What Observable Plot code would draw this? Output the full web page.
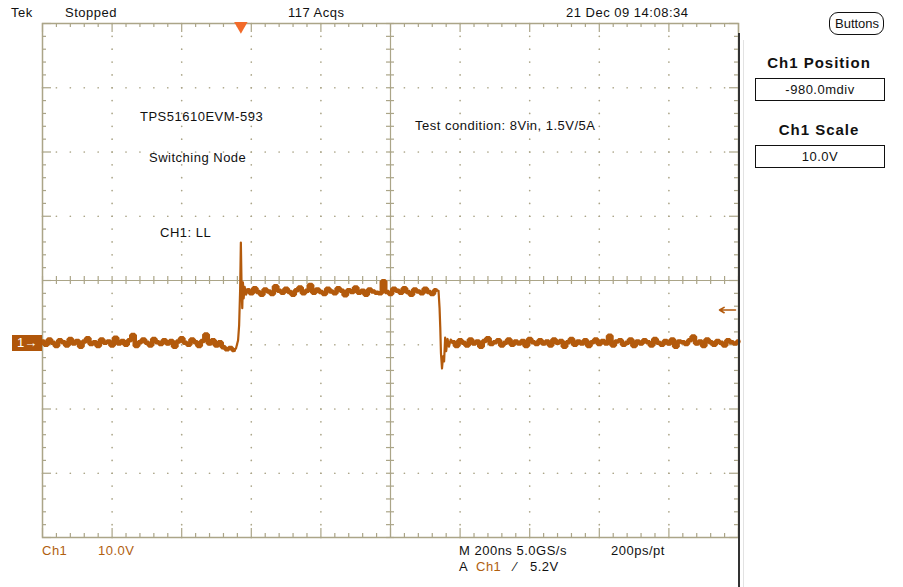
<!DOCTYPE html>
<html>
<head>
<meta charset="utf-8">
<script src="https://cdn.jsdelivr.net/npm/d3@7"></script>
<script src="https://cdn.jsdelivr.net/npm/@observablehq/plot@0.6"></script>
<style>
  html, body { margin: 0; padding: 0; background: #fff; }
  #wrap { position: relative; width: 903px; height: 587px; overflow: hidden; background: #fff;
          font-family: "Liberation Sans", Arial, sans-serif; color: #111; }
  #wrap svg { position: absolute; left: 0; top: 0; }
  .t { position: absolute; white-space: nowrap; font-size: 13px; line-height: 1; letter-spacing: 0.5px; }
  .o { color: #b0600f; }
  .box { position: absolute; border: 1.5px solid #111; text-align: center; font-size: 13px; line-height: 21px; box-sizing: border-box; letter-spacing: 0.5px; }
  .hd { position: absolute; font-weight: bold; font-size: 15px; letter-spacing: 1px; text-align: center; width: 160px; }
</style>
</head>
<body>
<div id="wrap"></div>
<script>
// ---------- data ----------
const channel = "Ch1";
const voltsPerDiv = 10;          // V/div
const timePerDiv = 200;          // ns/div
const positionDiv = -0.98;       // Ch1 position (div)
const triggerLevel = 5.2;        // V
const triggerTime = 570;         // ns
const sampleStep = 10;           // ns between plotted samples

// low level before switching edge (t = 0 .. 550 ns)
const lowBefore = [
  0.3,-0.2,0.6,0.1,-0.4,0.5,0.2,-0.3,0.7,0.0,
  0.4,-0.5,0.3,0.8,-0.1,0.2,-0.4,0.6,0.1,0.3,
  -0.3,0.9,0.0,0.4,-0.2,0.5,1.3,-0.4,0.2,0.6,
  0.1,-0.3,0.7,0.2,-0.1,0.5,0.0,0.4,-0.5,0.3,
  0.8,0.1,-0.2,0.6,0.2,-0.4,0.4,1.4,0.0,0.5,
  -0.3,0.2,-0.6,-0.9,-0.7,-1.0
];
// rising edge [t ns, V]
const risingEdge = [[556,-0.8],[562,0.5],[565,2.8],[568,8.5],[570,15.7],[572,9.0],[574,5.5],[576,9.5],[578,7.0],[581,8.8],[585,7.6]];
// high level (t = 590 .. 1130 ns)
const highLevel = [
  8.3,7.8,8.6,8.0,7.6,8.4,8.1,7.7,8.9,8.2,
  7.9,8.5,8.0,7.6,8.3,8.7,7.8,8.2,9.1,7.9,
  8.4,8.0,7.7,8.5,8.1,7.8,8.6,8.2,7.5,8.3,
  8.0,8.7,7.9,8.2,7.6,8.4,8.1,7.9,7.8,9.7,
  8.0,7.7,8.5,8.2,7.9,8.6,8.0,7.6,8.4,8.1,
  7.8,8.5,8.0,7.7,8.3
];
// falling edge [t ns, V]
const fallingEdge = [[1138,8.2],[1141,5.5],[1143,2.5],[1145,-1.5],[1148,-3.9],[1151,-2.0],[1154,-2.8],[1157,0.9],[1160,-1.2],[1164,0.7],[1168,-0.5],[1173,0.6]];
// low level after (t = 1180 .. 2000 ns)
const lowAfter = [
  0.2,-0.4,0.5,0.1,-0.3,0.6,0.0,0.3,-0.5,0.4,
  0.8,-0.1,0.2,0.5,-0.3,0.1,0.6,-0.2,0.3,0.0,
  0.4,-0.4,0.7,0.2,-0.1,0.5,0.0,0.3,-0.3,0.6,
  0.1,0.4,-0.5,0.2,0.7,-0.2,0.3,0.0,0.5,-0.4,
  0.2,0.6,-0.1,0.4,0.0,1.2,-0.3,0.3,0.5,-0.2,
  0.1,0.6,-0.4,0.3,0.0,0.5,0.2,-0.3,0.7,0.1,
  -0.2,0.4,0.0,0.6,-0.5,0.3,0.2,-0.1,0.5,1.1,
  0.0,0.3,-0.4,0.6,0.2,-0.2,0.4,0.1,-0.3,0.5,
  0.2,0.0,0.3
];

// ---------- build trace segments ----------
const lvl1 = lowBefore.map((v, i) => ({t: i * sampleStep, v, seg: "low1"}));
const lvl2 = highLevel.map((v, i) => ({t: 590 + i * sampleStep, v, seg: "high"}));
const lvl3 = lowAfter.map((v, i) => ({t: 1180 + i * sampleStep, v, seg: "low2"}));
const levels = [...lvl1, ...lvl2, ...lvl3];
const edges = [
  {...lvl1[lvl1.length - 1], seg: "rise"},
  ...risingEdge.map(([t, v]) => ({t, v, seg: "rise"})),
  {...lvl2[0], seg: "rise"},
  {...lvl2[lvl2.length - 1], seg: "fall"},
  ...fallingEdge.map(([t, v]) => ({t, v, seg: "fall"})),
  {...lvl3[0], seg: "fall"}
];

// ---------- graticule ----------
const nDivX = 10, nDivY = 8;
const xMin = 0, xMax = nDivX * timePerDiv;
const yCenter = -positionDiv * voltsPerDiv;            // 9.8 V at screen center
const yMin = yCenter - nDivY / 2 * voltsPerDiv, yMax = yCenter + nDivY / 2 * voltsPerDiv;
const xMajor = d3.range(0, nDivX + 1).map(k => k * timePerDiv);
const xMinor = d3.range(0, nDivX * 5 + 1).map(k => k * timePerDiv / 5);
const yMajor = d3.range(0, nDivY + 1).map(k => yMin + k * voltsPerDiv);
const yMinor = d3.range(0, nDivY * 5 + 1).map(k => yMin + k * voltsPerDiv / 5);
const xCenter = (xMin + xMax) / 2;

const W = 903, H = 587, mL = 42, mR = 165, mT = 23, mB = 50;
const pxX = (xMax - xMin) / (W - mL - mR);
const pxY = (yMax - yMin) / (H - mT - mB);

const gridColor = "#aba588";
const traceColor = "#b35a0c";

const isMajX = t => Math.abs(t / timePerDiv - Math.round(t / timePerDiv)) < 1e-6;
const isMajY = v => Math.abs((v - yMin) / voltsPerDiv - Math.round((v - yMin) / voltsPerDiv)) < 1e-6;

const dots = [];
xMajor.slice(1, -1).forEach(x => { if (x !== xCenter) yMinor.forEach(y => dots.push({x, y})); });
yMajor.slice(1, -1).forEach(y => { if (Math.abs(y - yCenter) > 1e-6) xMinor.forEach(x => dots.push({x, y})); });

const tickLen = d => (d ? 9 : 4);

const chart = Plot.plot({
  width: W, height: H,
  marginLeft: mL, marginRight: mR, marginTop: mT, marginBottom: mB,
  x: {domain: [xMin, xMax], axis: null},
  y: {domain: [yMin, yMax], axis: null},
  style: {background: "transparent", overflow: "visible"},
  marks: [
    Plot.dot(dots, {x: "x", y: "y", r: 0.85, fill: gridColor, stroke: null}),
    Plot.ruleX([xCenter], {stroke: gridColor, strokeWidth: 1.2}),
    Plot.ruleY([yCenter], {stroke: gridColor, strokeWidth: 1.2}),
    // center axis ticks
    Plot.ruleX(xMinor, {x: d => d, y1: yCenter - 4 * pxY, y2: yCenter + 4 * pxY, stroke: gridColor, strokeWidth: 1.2}),
    Plot.ruleY(yMinor, {y: d => d, x1: xCenter - 4 * pxX, x2: xCenter + 4 * pxX, stroke: gridColor, strokeWidth: 1.2}),
    // edge ticks
    Plot.ruleX(xMinor, {x: d => d, y1: yMax, y2: d => yMax - tickLen(isMajX(d)) * pxY, stroke: gridColor, strokeWidth: 1.2}),
    Plot.ruleX(xMinor, {x: d => d, y1: yMin, y2: d => yMin + tickLen(isMajX(d)) * pxY, stroke: gridColor, strokeWidth: 1.2}),
    Plot.ruleY(yMinor, {y: d => d, x1: xMin, x2: d => xMin + tickLen(isMajY(d)) * pxX, stroke: gridColor, strokeWidth: 1.2}),
    Plot.ruleY(yMinor, {y: d => d, x1: xMax, x2: d => xMax - tickLen(isMajY(d)) * pxX, stroke: gridColor, strokeWidth: 1.2}),
    Plot.frame({stroke: gridColor, strokeWidth: 1.5}),
    // waveform: edges thin, settled levels as a thick noisy band
    Plot.line(edges, {x: "t", y: "v", z: "seg", stroke: traceColor, strokeWidth: 2.2}),
    Plot.line(levels, {x: "t", y: "v", z: "seg", curve: "step", stroke: traceColor, strokeWidth: 4.5, strokeLinejoin: "miter"}),
    // trigger position marker
    Plot.dot([triggerTime], {x: d => d, y: yMax - 2.5 * pxY, symbol: "triangle", rotate: 180, r: 5, fill: "#f26b2a", stroke: null}),
    // trigger level arrow
    Plot.arrow([triggerLevel], {x1: xMax - 3 * pxX, x2: xMax - 19 * pxX, y1: d => d, y2: d => d, stroke: traceColor, strokeWidth: 1.6, headLength: 7})
  ]
});

const wrap = document.getElementById("wrap");
wrap.appendChild(chart);

const sy = chart.scale("y");
const groundY = sy.apply(0);

function addText(cls, text, left, top, extraStyle) {
  const d = document.createElement("div");
  d.className = cls;
  d.textContent = text;
  d.style.left = left + "px";
  d.style.top = top + "px";
  if (extraStyle) Object.assign(d.style, extraStyle);
  wrap.appendChild(d);
  return d;
}

// top status line
addText("t", "Tek", 11, 6);
addText("t", "Stopped", 65, 6);
addText("t", "117 Acqs", 288, 6);
addText("t", "21 Dec 09 14:08:34", 566, 6);

// buttons
addText("t", "Buttons", 829, 12, {border: "1.5px solid #111", borderRadius: "9px", padding: "4px 4px 4px 5px", fontSize: "13px", letterSpacing: "0px"});

// right panel
addText("hd", "Ch1 Position", 739, 54);
addText("box", "-980.0mdiv", 755, 78, {width: "130px", height: "23px"});
addText("hd", "Ch1 Scale", 739, 121);
addText("box", "10.0V", 755, 145, {width: "130px", height: "23px"});

// annotations
addText("t", "TPS51610EVM-593", 140, 110);
addText("t", "Switching Node", 149, 151);
addText("t", "CH1: LL", 160, 226);
addText("t", "Test condition: 8Vin, 1.5V/5A", 415, 119);

// bottom readouts
addText("t o", "Ch1", 42, 544);
addText("t o", "10.0V", 98, 544);
addText("t", "M 200ns 5.0GS/s", 459, 544);
addText("t", "200ps/pt", 611, 544);
addText("t", "A", 459, 560);
addText("t o", "Ch1", 476, 560);
addText("t", "\u2215", 514, 560);
addText("t", "5.2V", 530, 560);

// ground marker
const gm = document.createElement("div");
Object.assign(gm.style, {position: "absolute", left: "12px", top: (groundY - 8) + "px", width: "30px", height: "16px",
  background: "#b0560a", color: "#fff", fontSize: "13px", lineHeight: "16px", paddingLeft: "5px", boxSizing: "border-box"});
gm.textContent = "1\u2192";
wrap.appendChild(gm);

// right border line of the display
const rl = document.createElement("div");
Object.assign(rl.style, {position: "absolute", left: "738px", top: "33px", width: "2px", height: "554px", background: "#333"});
wrap.appendChild(rl);
const pl = document.createElement("div");
Object.assign(pl.style, {position: "absolute", left: "743px", top: "40px", width: "1px", height: "547px", background: "#e2e2e2"});
wrap.appendChild(pl);
</script>
</body>
</html>
